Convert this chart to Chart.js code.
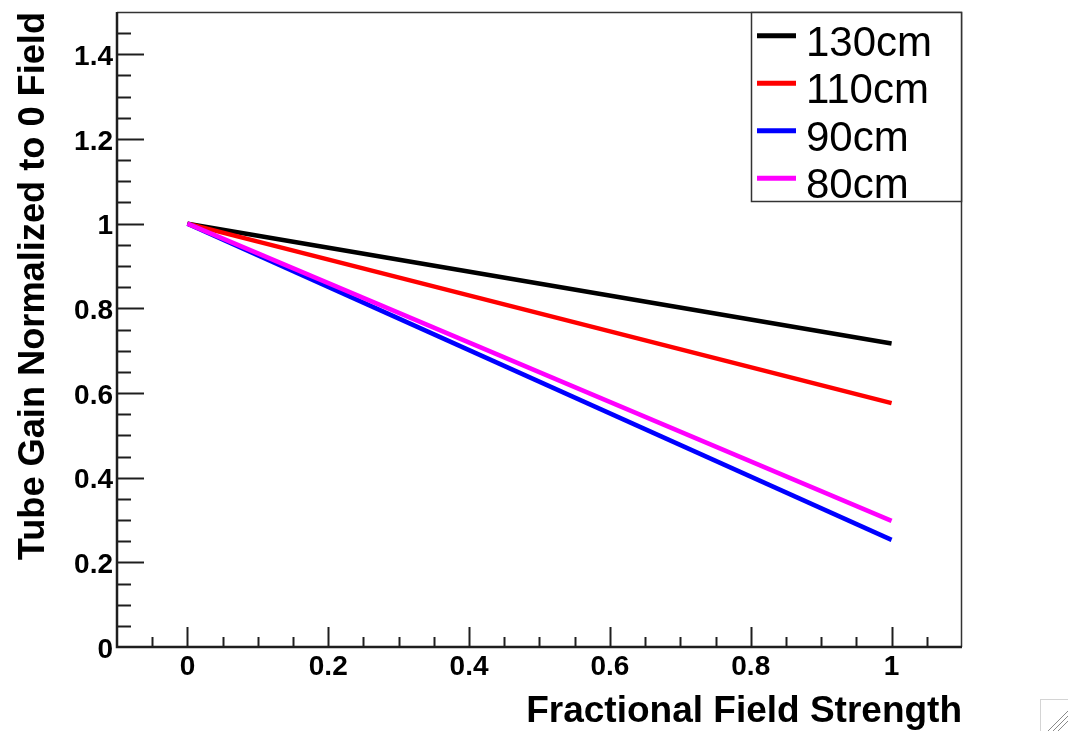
<!DOCTYPE html>
<html>
<head>
<meta charset="utf-8">
<script src="https://cdn.jsdelivr.net/npm/chart.js@4/dist/chart.umd.min.js"></script>
<style>
  html, body { margin: 0; padding: 0; background: #fff; }
  #gain-chart { display: block; }
</style>
</head>
<body>
<canvas id="gain-chart" width="1068" height="731"></canvas>
<script>
// field strength (fraction of full field) and tube gain relative to zero field
var fieldStrength = [0, 1];
var gain130 = [1, 0.717];
var gain110 = [1, 0.576];
var gain90 = [1, 0.253];
var gain80 = [1, 0.298];

var seriesLabels = ['130cm', '110cm', '90cm', '80cm'];
var seriesColors = ['#000000', '#ff0000', '#0000ff', '#ff00ff'];
var seriesValues = [gain130, gain110, gain90, gain80];

var xTickValues = [0, 0.2, 0.4, 0.6, 0.8, 1];
var yTickValues = [0, 0.2, 0.4, 0.6, 0.8, 1, 1.2, 1.4];

var FONT = '"Liberation Sans", Arial, Helvetica, sans-serif';
var AXIS_COLOR = '#1e1e1e';

function toPoints(ys) {
    return fieldStrength.map(function (x, i) { return { x: x, y: ys[i] }; });
}

// Datasets: later ones sit on top (lower "order" draws last)
var datasets = seriesLabels.map(function (label, i) {
    return {
        label: label,
        data: toPoints(seriesValues[i]),
        borderColor: seriesColors[i],
        backgroundColor: seriesColors[i],
        borderWidth: 4.5,
        pointRadius: 0,
        tension: 0,
        fill: false,
        order: seriesLabels.length - i
    };
});

// Frame, inward ticks (major + minor), boxed legend and the window grip
var frameAndLegend = {
    id: 'frameAndLegend',
    afterDraw: function (chart) {
        var ctx = chart.ctx;
        var area = chart.chartArea;
        var xs = chart.scales.x, ys = chart.scales.y;
        ctx.save();

        // ticks along the bottom axis, every 0.05
        ctx.strokeStyle = AXIS_COLOR;
        ctx.lineWidth = 2;
        for (var k = -1; k <= 21; k++) {
            var px = Math.round(xs.getPixelForValue(k * 0.05)) + 0.5;
            var len = (k % 4 === 0) ? 20 : 10;
            ctx.beginPath();
            ctx.moveTo(px, area.bottom);
            ctx.lineTo(px, area.bottom - len);
            ctx.stroke();
        }
        // ticks along the left axis, every 0.05
        for (var j = 1; j <= 29; j++) {
            var py = Math.round(ys.getPixelForValue(j * 0.05)) + 0.5;
            var ylen = (j % 4 === 0) ? 27 : 14;
            ctx.beginPath();
            ctx.moveTo(area.left, py);
            ctx.lineTo(area.left + ylen, py);
            ctx.stroke();
        }

        // frame: heavy left/bottom axes, thin top/right edges
        ctx.lineWidth = 1.5;
        ctx.strokeStyle = '#333';
        ctx.beginPath();
        ctx.moveTo(area.left, area.top + 0.5);
        ctx.lineTo(area.right - 0.5, area.top + 0.5);
        ctx.lineTo(area.right - 0.5, area.bottom);
        ctx.stroke();
        ctx.lineWidth = 2.5;
        ctx.strokeStyle = AXIS_COLOR;
        ctx.beginPath();
        ctx.moveTo(area.left, area.top);
        ctx.lineTo(area.left, area.bottom);
        ctx.lineTo(area.right, area.bottom);
        ctx.stroke();

        // legend box in the top-right corner
        var boxW = 211, boxH = 190;
        var bx = area.right - boxW, by = area.top;
        ctx.fillStyle = '#fff';
        ctx.fillRect(bx, by, boxW, boxH);
        ctx.lineWidth = 1.5;
        ctx.strokeStyle = '#333';
        ctx.strokeRect(bx + 0.5, by + 0.5, boxW - 1, boxH - 1);

        var rowH = boxH / chart.data.datasets.length;
        ctx.font = '42px ' + FONT;
        ctx.textAlign = 'left';
        ctx.textBaseline = 'alphabetic';
        chart.data.datasets.forEach(function (ds, i) {
            var cy = by + rowH * (i + 0.5);
            ctx.strokeStyle = ds.borderColor;
            ctx.lineWidth = 5;
            ctx.beginPath();
            ctx.moveTo(bx + 6, cy);
            ctx.lineTo(bx + 45, cy);
            ctx.stroke();
            ctx.fillStyle = '#000';
            ctx.fillText(ds.label, bx + 55, cy + 20);
        });

        // resize grip in the lower-right corner of the window
        var W = chart.width, H = chart.height;
        ctx.strokeStyle = '#d4d4d4';
        ctx.lineWidth = 1;
        ctx.strokeRect(W - 27.5, H - 31.5, 40, 40);
        ctx.strokeStyle = '#8a8a8a';
        for (var g = 0; g < 3; g++) {
            ctx.beginPath();
            ctx.moveTo(W - 20 + g * 5, H);
            ctx.lineTo(W, H - 20 + g * 5);
            ctx.stroke();
        }
        ctx.restore();
    }
};

var tickFont = { family: FONT, size: 28, weight: 'bold', lineHeight: 1 };
var xTitleFont = { family: FONT, size: 37, weight: 'bold', lineHeight: 1 };
var yTitleFont = { family: FONT, size: 36.2, weight: 'bold', lineHeight: 1 };

function fmtTick(v) { return String(+Number(v).toFixed(1)); }

new Chart(document.getElementById('gain-chart'), {
    type: 'line',
    data: { datasets: datasets },
    plugins: [frameAndLegend],
    options: {
        responsive: false,
        devicePixelRatio: 1,
        animation: false,
        layout: { padding: { top: 12, right: 106, left: 0, bottom: 0 } },
        plugins: { legend: { display: false }, tooltip: { enabled: false } },
        scales: {
            x: {
                type: 'linear',
                min: -0.1,
                max: 1.1,
                afterBuildTicks: function (s) {
                    s.ticks = xTickValues.map(function (v) { return { value: v }; });
                },
                afterFit: function (s) {
                    s.height = 84;
                    s.paddingLeft = 0;
                    s.paddingRight = 0;
                },
                grid: { display: false, drawTicks: false },
                border: { display: false },
                ticks: { font: tickFont, color: '#000', padding: 6, maxRotation: 0, callback: fmtTick },
                title: {
                    display: true,
                    text: 'Fractional Field Strength',
                    align: 'end',
                    color: '#000',
                    font: xTitleFont,
                    padding: { top: 0, bottom: 1 }
                }
            },
            y: {
                type: 'linear',
                min: 0,
                max: 1.5,
                afterBuildTicks: function (s) {
                    s.ticks = yTickValues.map(function (v) { return { value: v }; });
                },
                afterFit: function (s) {
                    s.width = 117;
                    s.paddingTop = 0;
                    s.paddingBottom = 0;
                },
                grid: { display: false, drawTicks: false },
                border: { display: false },
                ticks: { font: tickFont, color: '#000', padding: 4, labelOffset: 3, callback: fmtTick },
                title: {
                    display: true,
                    text: 'Tube Gain Normalized to 0 Field',
                    align: 'end',
                    color: '#000',
                    font: yTitleFont,
                    padding: { top: 16, bottom: 0 }
                }
            }
        }
    }
});
</script>
</body>
</html>
